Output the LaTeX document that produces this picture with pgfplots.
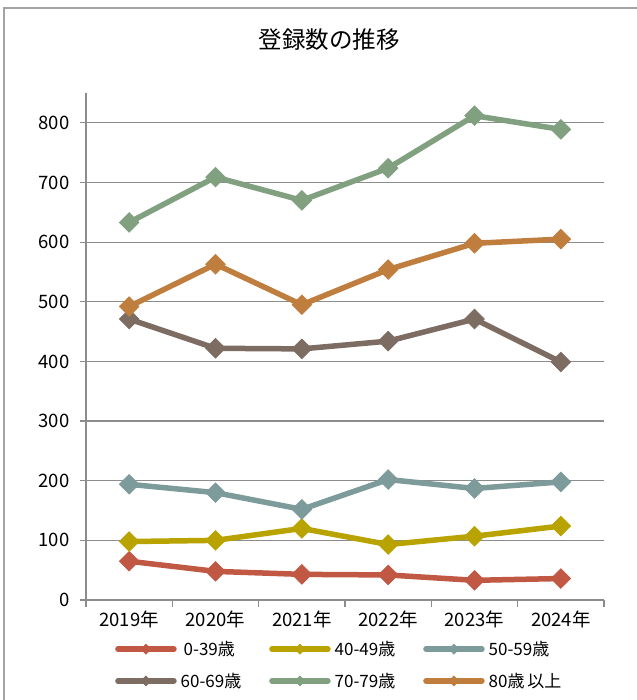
\documentclass[border=0pt]{standalone}
\usepackage{pgfplots}
\pgfplotsset{compat=1.18}
\usepackage{fontspec}
\setmainfont{Noto Sans CJK JP}
\definecolor{cA}{RGB}{192,88,68}
\definecolor{cB}{RGB}{185,163,0}
\definecolor{cC}{RGB}{125,155,155}
\definecolor{cD}{RGB}{124,108,98}
\definecolor{cE}{RGB}{128,160,128}
\definecolor{cF}{RGB}{192,126,62}
\definecolor{gridc}{RGB}{140,140,140}
\begin{document}
\begin{tikzpicture}[x=1pt,y=1pt]
\useasboundingbox (0,0) rectangle (636,-700);
\draw[gridc!80, line width=1.2pt] (4,-712) -- (4,-8) -- (640,-8);
\node[font=\fontsize{23.5}{27}\selectfont] at (329,-40) {登録数の推移};
\begin{axis}[
  at={(86pt,-600pt)}, anchor=south west,
  scale only axis, width=518pt, height=507pt,
  xmin=-0.5, xmax=5.5, ymin=0, ymax=850,
  axis x line*=bottom, axis y line*=left,
  axis line style={gridc, line width=1.2pt, -},
  xtick={0,1,2,3,4,5},
  xticklabels={2019年,2020年,2021年,2022年,2023年,2024年},
  minor xtick={-0.5,0.5,1.5,2.5,3.5,4.5,5.5},
  major x tick style={draw=none},
  minor tick length=7pt,
  minor x tick style={gridc, line width=1.2pt},
  ytick={0,100,...,800},
  major tick length=6pt,
  tick align=outside,
  y tick style={gridc, line width=1.2pt},
  ymajorgrids, grid style={gridc, line width=1.2pt},
  tick label style={font=\fontsize{18.5}{21}\selectfont},
  /pgf/number format/assume math mode=true,
  yticklabel style={xshift=-7pt},
  xticklabel style={yshift=-1pt},
  every axis plot/.append style={line width=5.5pt, line cap=round, line join=round, mark=square*, mark size=6.9pt, mark options={rotate=45, solid, line width=0.8pt, line join=miter}},
  legend image code/.code={
    \draw[#1, line width=5.5pt, line cap=round] (2.7pt,0pt) -- (53.3pt,0pt);
    \draw[#1, mark size=3.6pt, mark options={rotate=45, solid, line width=0.5pt, line join=miter}] plot coordinates {(28pt,0pt)};
    \path (0pt,0pt) -- (56pt,0pt);
  },
  legend style={draw=none, fill=none, at={(axis description cs:0.056,-0.081)}, anchor=north west,
    legend columns=3, font=\fontsize{17}{20}\selectfont,
    nodes={inner sep=0pt},
    /tikz/every odd column/.append style={column sep=4pt},
    row sep=16pt, inner sep=0pt},
  legend cell align=left,
]
\addplot[cA] coordinates {(0,65) (1,48) (2,43) (3,42) (4,33) (5,36)};
\addlegendentry{\makebox[88.5pt][l]{\hspace{3pt}0-39歳}}
\addplot[cB] coordinates {(0,98) (1,100) (2,120) (3,93) (4,107) (5,124)};
\addlegendentry{\makebox[88.5pt][l]{40-49歳}}
\addplot[cC] coordinates {(0,194) (1,180) (2,152) (3,202) (4,187) (5,198)};
\addlegendentry{\makebox[88.5pt][l]{50-59歳}}
\addplot[cD] coordinates {(0,471) (1,422) (2,421) (3,434) (4,471) (5,399)};
\addlegendentry{\makebox[88.5pt][l]{60-69歳}}
\addplot[cE] coordinates {(0,633) (1,709) (2,670) (3,724) (4,812) (5,789)};
\addlegendentry{\makebox[88.5pt][l]{70-79歳}}
\addplot[cF] coordinates {(0,492) (1,563) (2,495) (3,554) (4,598) (5,605)};
\addlegendentry{\makebox[88.5pt][l]{80歳\,以上}}
\end{axis}
\end{tikzpicture}
\end{document}
